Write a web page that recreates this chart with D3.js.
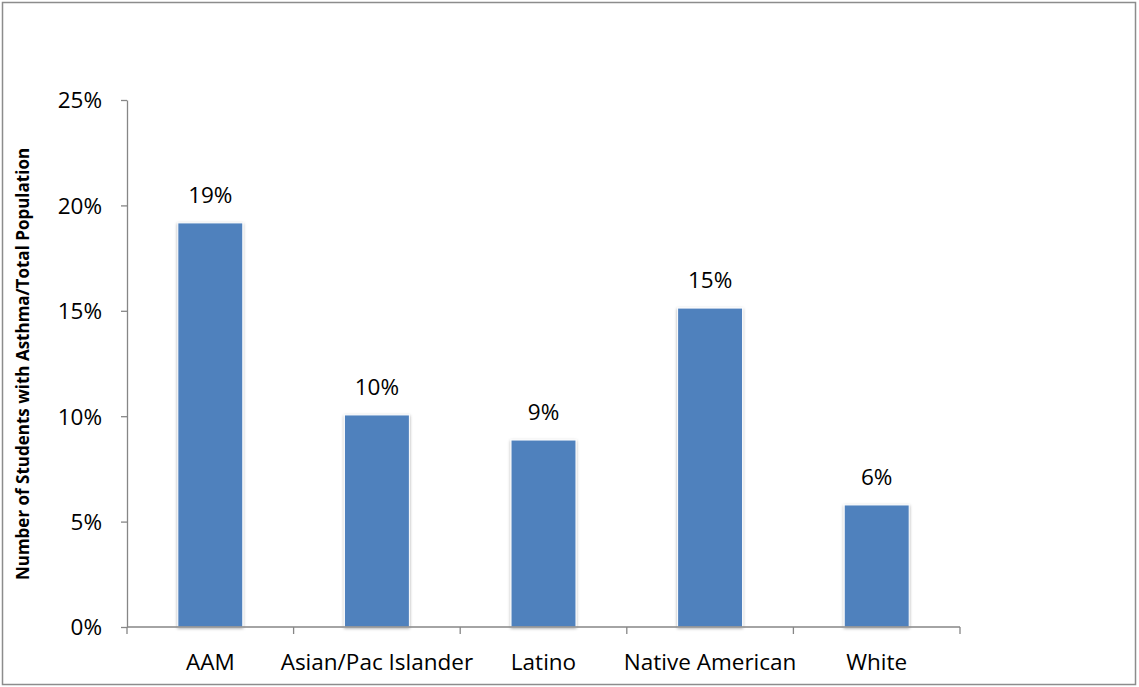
<!DOCTYPE html>
<html><head><meta charset="utf-8">
<script src="https://cdn.jsdelivr.net/npm/d3@7"></script>
<style>body{margin:0;background:#fff}svg{display:block}text{font-family:"Open Sans",sans-serif;fill:#000}</style>
</head><body>
<svg id="c" width="1139" height="687"></svg>
<script>
const categories = ["AAM","Asian/Pac Islander","Latino","Native American","White"];
const values = [0.1917, 0.1006, 0.0887, 0.1513, 0.0579];
const labels = ["19%","10%","9%","15%","6%"];
const yTicks = [0,0.05,0.10,0.15,0.20,0.25];

const svg = d3.select("#c");
svg.append("rect").attr("x",2.5).attr("y",2.5).attr("width",1133).attr("height",682)
  .attr("fill","#fff").attr("stroke","#8c8c8c").attr("stroke-width",1.5);

const x = d3.scaleBand().domain(categories).range([127,960]).paddingInner(0.61).paddingOuter(0.305);
const y = d3.scaleLinear().domain([0,0.25]).range([627,100]);

const defs = svg.append("defs");
const f = defs.append("filter").attr("id","sh").attr("x","-20%").attr("y","-5%").attr("width","140%").attr("height","110%");
f.append("feDropShadow").attr("dx",0).attr("dy",1).attr("stdDeviation",1.5).attr("flood-color","#000").attr("flood-opacity",0.35);

svg.append("g").selectAll("rect").data(values).join("rect")
  .attr("x",(d,i)=>x(categories[i]))
  .attr("y",d=>y(d))
  .attr("width",x.bandwidth())
  .attr("height",d=>y(0)-y(d))
  .attr("fill","#4f81bd").attr("stroke","#fff").attr("stroke-width",1)
  .attr("filter","url(#sh)");

svg.append("g").selectAll("text").data(values).join("text")
  .attr("x",(d,i)=>x(categories[i])+x.bandwidth()/2)
  .attr("y",d=>y(d)-20)
  .attr("text-anchor","middle").attr("font-size",22.5)
  .text((d,i)=>labels[i]);

// y axis
const yAxis = d3.axisLeft(y).tickValues(yTicks).tickFormat(d3.format(".0%")).tickSize(6).tickSizeOuter(0);
const gy = svg.append("g").attr("transform","translate(127,0)").call(yAxis);
gy.selectAll("path,line").attr("stroke","#868686").attr("stroke-width",1.3);
gy.selectAll("text").attr("font-size",22.5).attr("x",-25).attr("dy","0.35em").style("font-family","'Open Sans',sans-serif");

// x axis with ticks at band boundaries
const xAxisLine = svg.append("g");
xAxisLine.append("line").attr("x1",127).attr("x2",960).attr("y1",627).attr("y2",627).attr("stroke","#868686").attr("stroke-width",1.3);
const bounds = d3.range(categories.length+1).map(i=>127+i*(833/categories.length));
xAxisLine.selectAll("line.t").data(bounds).join("line").attr("class","t")
  .attr("x1",d=>d).attr("x2",d=>d).attr("y1",627).attr("y2",634).attr("stroke","#868686").attr("stroke-width",1.3);
svg.append("g").selectAll("text").data(categories).join("text")
  .attr("x",d=>x(d)+x.bandwidth()/2).attr("y",670)
  .attr("text-anchor","middle").attr("font-size",22.5).text(d=>d);

svg.append("text").attr("transform","translate(29,364) rotate(-90)")
  .attr("text-anchor","middle").attr("font-size",17).attr("font-weight","bold")
  .text("Number of Students with Asthma/Total Population");
</script>
</body></html>
